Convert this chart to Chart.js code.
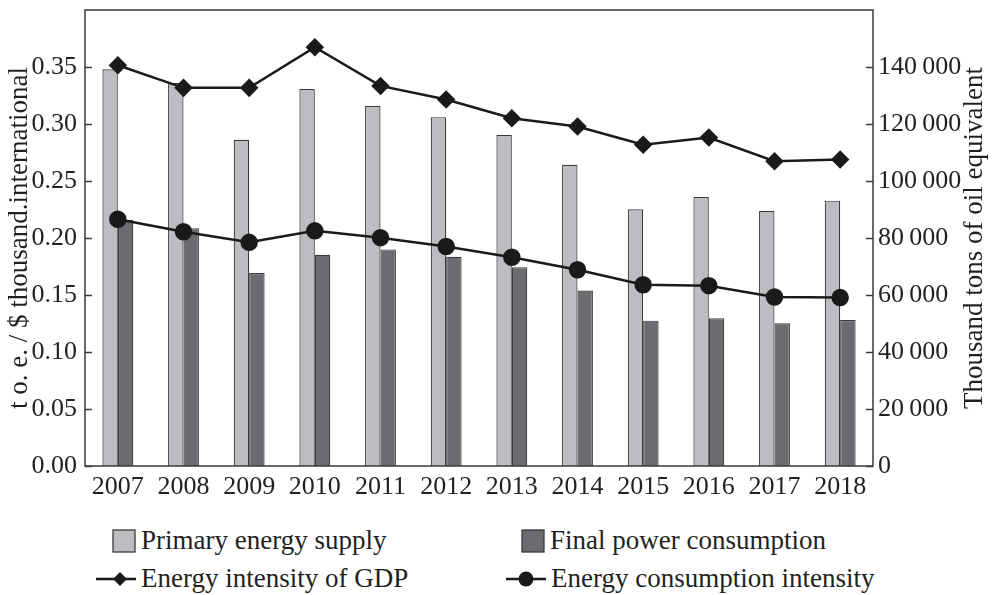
<!DOCTYPE html>
<html>
<head>
<meta charset="utf-8">
<script src="https://cdn.jsdelivr.net/npm/chart.js@4/dist/chart.umd.min.js"></script>
<style>
  html, body { margin: 0; padding: 0; background: #fff; }
  #wrap { position: relative; width: 992px; height: 595px; font-family: "Liberation Serif", "DejaVu Serif", serif; color: #231f20; }
  #chart { position: absolute; left: 0; top: 0; }
  .leg { position: absolute; display: flex; align-items: center; font-size: 27px; white-space: nowrap; }
  .leg svg { margin-right: 5px; }
</style>
</head>
<body>
<div id="wrap">
  <canvas id="chart" width="992" height="505"></canvas>
  <div class="leg" style="left:112px; top:525px;">
    <svg width="24" height="24"><rect x="1" y="1" width="22" height="22" fill="#bcbdc1" stroke="#3a3a3a" stroke-width="1.3"/></svg>Primary energy supply
  </div>
  <div class="leg" style="left:521px; top:525px;">
    <svg width="24" height="24"><rect x="1" y="1" width="22" height="22" fill="#6b6c70" stroke="#3a3a3a" stroke-width="1.3"/></svg>Final power consumption
  </div>
  <div class="leg" style="left:96px; top:563px;">
    <svg width="40" height="30"><line x1="0" y1="15" x2="40" y2="15" stroke="#1a1a1a" stroke-width="2.5"/><path d="M24 8 L31 15 L24 22 L17 15 Z" fill="#1a1a1a"/></svg>Energy intensity of GDP
  </div>
  <div class="leg" style="left:506px; top:563px;">
    <svg width="40" height="30"><line x1="0" y1="15" x2="40" y2="15" stroke="#1a1a1a" stroke-width="2.5"/><circle cx="20" cy="15" r="7.5" fill="#1a1a1a"/></svg>Energy consumption intensity
  </div>
</div>
<script>
// data
const years = ['2007', '2008', '2009', '2010', '2011', '2012', '2013', '2014', '2015', '2016', '2017', '2018'];
const primarySupply = [139200, 134400, 114500, 132300, 126300, 122400, 116100, 105700, 90100, 94400, 89500, 93100];
const finalConsumption = [86300, 83400, 67700, 74100, 76000, 73400, 69700, 61600, 51000, 51800, 50100, 51200];
const gdpIntensity = [0.3515, 0.3317, 0.3317, 0.3674, 0.3334, 0.3215, 0.3050, 0.2978, 0.2818, 0.2882, 0.2673, 0.2688];
const consumptionIntensity = [0.2165, 0.2055, 0.1962, 0.2063, 0.2003, 0.1925, 0.1831, 0.1721, 0.1590, 0.1582, 0.1483, 0.1477];

const leftTitle = 't o. e. / $ thousand.international';
const rightTitle = 'Thousand tons of oil equivalent';

const FONT = '"Liberation Serif", "DejaVu Serif", serif';
const INK = '#231f20';

// frame around the plot, inward tick marks, and the right title read bottom-to-top
const framePlugin = {
    id: 'frame',
    afterDraw: function(chart) {
        const ctx = chart.ctx;
        const a = chart.chartArea;
        ctx.save();
        ctx.strokeStyle = '#3a3a3a';
        ctx.lineWidth = 1.5;
        ctx.strokeRect(a.left, a.top, a.right - a.left, a.bottom - a.top);
        ['yL', 'yR'].forEach(id => {
            const s = chart.scales[id];
            s.ticks.forEach((t, i) => {
                const y = Math.round(s.getPixelForTick(i)) + 0.5;
                ctx.beginPath();
                if (id === 'yL') { ctx.moveTo(a.left, y); ctx.lineTo(a.left + 7, y); }
                else { ctx.moveTo(a.right - 7, y); ctx.lineTo(a.right, y); }
                ctx.stroke();
            });
        });

        ctx.fillStyle = INK;
        ctx.font = '27px ' + FONT;
        ctx.textAlign = 'center';
        ctx.textBaseline = 'middle';
        ctx.translate(chart.width - 17, (a.top + a.bottom) / 2);
        ctx.rotate(-Math.PI / 2);
        ctx.fillText(rightTitle, 0, 0);
        ctx.restore();
    }
};

function dropTop(scale) {
    scale.ticks = scale.ticks.filter(t => t.value < scale.max - 1e-9);
}

new Chart(document.getElementById('chart'), {
    type: 'bar',
    data: {
        labels: years,
        datasets: [
            {
                type: 'line', label: 'Energy intensity of GDP', data: gdpIntensity, yAxisID: 'yL',
                borderColor: '#1a1a1a', backgroundColor: '#1a1a1a', borderWidth: 2.5,
                pointStyle: 'rectRot', pointRadius: 7.5, tension: 0, order: 0
            },
            {
                type: 'line', label: 'Energy consumption intensity', data: consumptionIntensity, yAxisID: 'yL',
                borderColor: '#1a1a1a', backgroundColor: '#1a1a1a', borderWidth: 2.5,
                pointStyle: 'circle', pointRadius: 7.5, tension: 0, order: 0
            },
            {
                label: 'Primary energy supply', data: primarySupply, yAxisID: 'yR',
                backgroundColor: '#bcbdc1', borderColor: '#3a3a3a', borderWidth: 1.2,
                categoryPercentage: 0.47, barPercentage: 1.0, order: 1
            },
            {
                label: 'Final power consumption', data: finalConsumption, yAxisID: 'yR',
                backgroundColor: '#6b6c70', borderColor: '#3a3a3a', borderWidth: 1.2,
                categoryPercentage: 0.47, barPercentage: 1.0, order: 1
            }
        ]
    },
    options: {
        responsive: false,
        animation: false,
        layout: { padding: { top: 7, left: 0, right: 0, bottom: 0 } },
        plugins: { legend: { display: false }, tooltip: { enabled: false } },
        scales: {
            x: {
                grid: { display: false, drawTicks: false },
                border: { display: false },
                ticks: { color: INK, font: { family: FONT, size: 26 }, padding: 6, maxRotation: 0, autoSkip: false },
                afterFit: s => { s.height = 39; s.paddingLeft = 0; s.paddingRight = 0; }
            },
            yL: {
                position: 'left', min: 0, max: 0.4,
                grid: { display: false, drawTicks: false },
                border: { display: false },
                ticks: {
                    stepSize: 0.05, color: INK, font: { family: FONT, size: 26 }, padding: 8,
                    callback: v => v.toFixed(2)
                },
                afterBuildTicks: dropTop,
                title: {
                    display: true, text: leftTitle, color: INK,
                    font: { family: FONT, size: 27 }, padding: { top: 4, bottom: 0 }
                },
                afterFit: s => { s.width = 85; s.paddingTop = 0; s.paddingBottom = 0; }
            },
            yR: {
                position: 'right', min: 0, max: 160000,
                grid: { display: false, drawTicks: false },
                border: { display: false },
                ticks: {
                    stepSize: 20000, color: INK, font: { family: FONT, size: 26 }, padding: 5,
                    callback: v => v === 0 ? '0' : String(v).replace(/\B(?=(\d{3})+(?!\d))/g, '\u2009')
                },
                afterBuildTicks: dropTop,
                afterFit: s => { s.width = 119; s.paddingTop = 0; s.paddingBottom = 0; }
            }
        }
    },
    plugins: [framePlugin]
});
</script>
</body>
</html>
